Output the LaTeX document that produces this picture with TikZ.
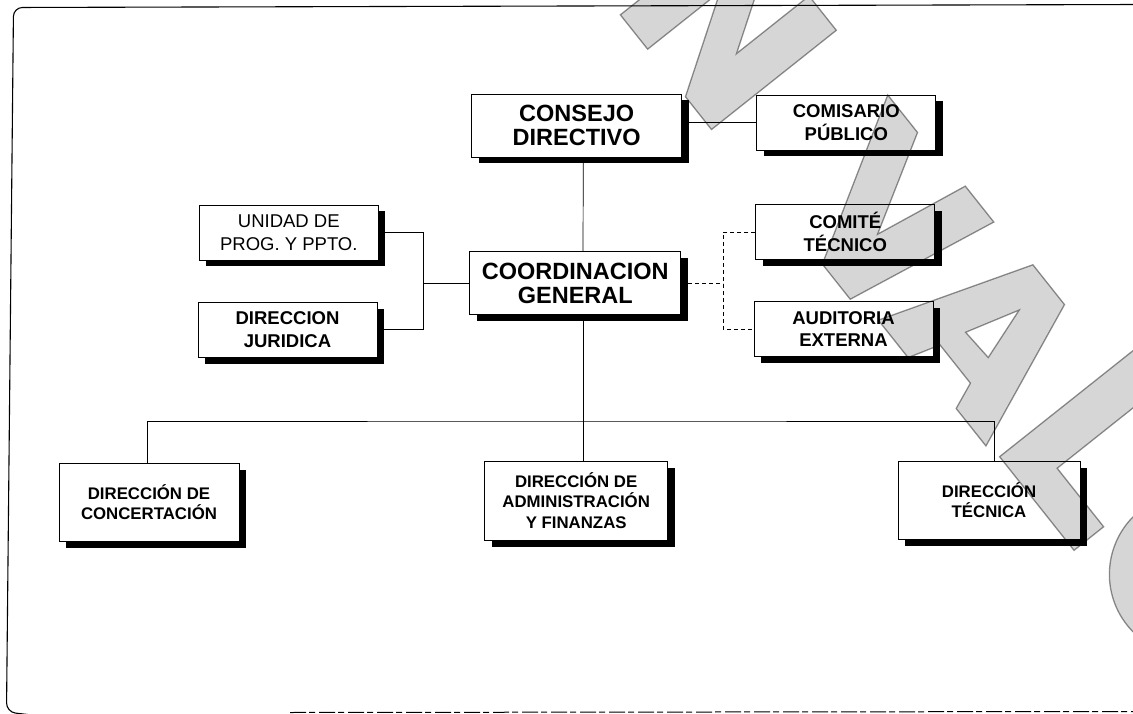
\documentclass[tikz,border=0pt]{standalone}
\usepackage{fontspec}
\setmainfont{Liberation Sans}
\usetikzlibrary{shadows}

\begin{document}
\begin{tikzpicture}[x=1pt,y=-1pt,
	caja/.style={draw, line width=0.8pt, fill=white, align=center, inner sep=0pt,
		general shadow={fill=black, shadow xshift=7pt, shadow yshift=-6.5pt}},
	grande/.style={caja, font=\bfseries\fontsize{23.5}{24.5}\selectfont},
	lateral/.style={caja, minimum width=179pt, minimum height=55pt, font=\bfseries\fontsize{18.5}{22.5}\selectfont},
	inferior/.style={caja, minimum width=182pt, minimum height=78pt, font=\bfseries\fontsize{16.8}{20.5}\selectfont},
	linea/.style={line width=0.7pt},
	marca/.style={fill=black!16, draw=black!42, line width=1.3pt, even odd rule}]
	%\draw[help lines, thick] (0,0) grid[step=50] (1133,714);
	\path[fill=white, use as bounding box] (0,0) rectangle (1133,714);
	\draw[line width=1.1pt, rounded corners=9pt] (1140,4.5) -- (13.5,7.5) -- (6.5,712) -- (40,716);
	\draw[line width=1pt, dash pattern=on 16pt off 3pt on 6pt off 4pt] (290,712.5) -- (1133,711.5);
	\node[grande, minimum width=210pt, minimum height=63pt] (consejo) at (576.7,125.5) {CONSEJO\\DIRECTIVO};
	\node[grande, minimum width=211pt, minimum height=63pt] (coordinacion) at (575.3,283.3) {COORDINACION\\GENERAL};
	\node[lateral] (comisario) at (846.3,122.5) {COMISARIO\\PÚBLICO};
	\node[lateral, font=\fontsize{18.5}{22.5}\selectfont] (unidad) at (288.8,232.5) {UNIDAD DE\\PROG. Y PPTO.};
	\node[lateral] (juridica) at (287.5,329.5) {DIRECCION\\JURIDICA};
	\node[lateral] (comite) at (845.3,232) {COMITÉ\\TÉCNICO};
	\node[lateral] (auditoria) at (843.5,329) {AUDITORIA\\EXTERNA};
	\node[inferior, minimum width=180pt] (concertacion) at (149,502) {DIRECCIÓN DE\\CONCERTACIÓN};
	\node[inferior, minimum width=183pt, minimum height=79pt] (administracion) at (576.2,500.5) {DIRECCIÓN DE\\ADMINISTRACIÓN\\Y FINANZAS};
	\node[inferior] (tecnica) at (989,500) {DIRECCIÓN\\TÉCNICA};
	\coordinate (bus) at (583,421);
	\draw[linea] ([xshift=6.6pt]consejo.south) -- ([xshift=7.7pt]coordinacion.north);
	\draw[linea] (comisario.west -| consejo.east) -- (comisario.west);
	\draw[linea] (unidad.east) -- ++(45,0) coordinate (llave) |- (juridica.east);
	\draw[linea] (coordinacion.west) -- (coordinacion.west -| llave);
	\draw[linea, dash pattern=on 4pt off 3pt] (coordinacion.east) -- ++(42,0) coordinate (punteo);
	\draw[linea, dash pattern=on 4pt off 3pt] (comite.west) -| (punteo) |- (auditoria.west);
	\draw[linea] ([xshift=7.7pt]coordinacion.south) -- ([xshift=6.8pt]administracion.north);
	\draw[linea] ([xshift=-1.7pt]concertacion.north) |- (bus) -| ([xshift=5pt]tecnica.north);
	% sello
	\begin{scope}[blend mode=multiply]
		\clip (0,0) rectangle (1133,714);
		\begin{scope}[shift={(634,32)}, x={(0.62pt,-0.78pt)}, y={(0.78pt,0.62pt)}]
			\draw[marca] (-22,0) -- (-22,160) -- (20,160) -- (81,67) -- (81,160) -- (125,160) -- (125,0) -- (83,0) -- (22,93) -- (22,0) -- cycle;
			\draw[marca] (208,160) -- (256,160) -- (311,65) -- (328,164) -- (374,164) -- (345,3) -- (300,3) -- cycle;
			\draw[marca] (379,12) -- (432,168) -- (483,168) -- (545,18) -- (497,18) -- (486,45) -- (437,45) -- (427,12) -- cycle
				(443,73) -- (459,129) -- (477,75) -- cycle;
			\draw[marca] (562,22) -- (562,230) -- (607,230) -- (607,60) -- (682,60) -- (682,22) -- cycle;
			\draw[marca] (774,99) circle[radius=82] (774,99) circle[radius=38];
		\end{scope}
	\end{scope}
\end{tikzpicture}
\end{document}
